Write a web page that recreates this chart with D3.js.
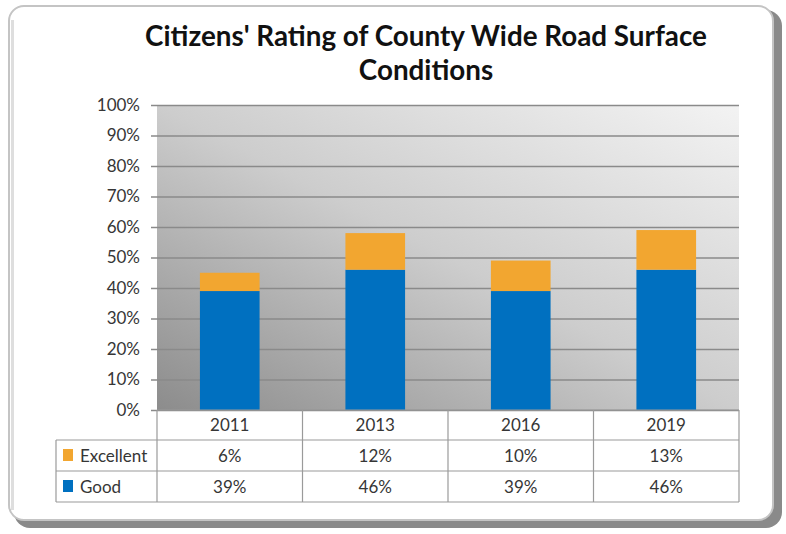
<!DOCTYPE html>
<html><head><meta charset="utf-8">
<script src="https://cdn.jsdelivr.net/npm/d3@7"></script>
<style>html,body{margin:0;padding:0;background:#fff;}svg{display:block;}</style>
</head><body>
<script>
const years = ["2011","2013","2016","2019"];
const seriesNames = ["Excellent","Good"];
const good = [39,46,39,46];
const excellent = [6,12,10,13];
const yTicks = [0,10,20,30,40,50,60,70,80,90,100];
const titleLines = ["Citizens' Rating of County Wide Road Surface","Conditions"];
const colors = {Good:"#0070C0", Excellent:"#F2A630"};

const W=786,H=534;
const svg=d3.select("body").append("svg").attr("width",W).attr("height",H);
const defs=svg.append("defs");
const g1=defs.append("linearGradient").attr("id","bg").attr("x1","0").attr("y1","1").attr("x2","1").attr("y2","0");
g1.append("stop").attr("offset","0").attr("stop-color","#8c8c8c");
g1.append("stop").attr("offset","0.5").attr("stop-color","#cdcdcd");
g1.append("stop").attr("offset","1").attr("stop-color","#f3f3f3");

// frame
svg.append("rect").attr("x",14).attr("y",10).attr("width",768).attr("height",518).attr("rx",16).attr("fill","#8a8a8a");
svg.append("rect").attr("x",9).attr("y",6).attr("width",764).attr("height",514).attr("rx",15).attr("fill","#fff").attr("stroke","#c4c4c4").attr("stroke-width",2);
svg.append("rect").attr("x",11).attr("y",20).attr("width",3).attr("height",490).attr("fill","#dedede");

const font="Lato, 'Open Sans', sans-serif";
svg.append("g").selectAll("text").data(titleLines).join("text")
 .attr("x",426).attr("y",(d,i)=>46+i*34).attr("text-anchor","middle")
 .attr("font-family",font).attr("font-weight","bold").attr("font-size",27.8).attr("fill","#111").text(d=>d);

const px0=157,px1=739,py0=105,py1=410;
const x=d3.scaleBand().domain(years).range([px0,px1]).padding(0);
const y=d3.scaleLinear().domain([0,100]).range([py1,py0]);

svg.append("rect").attr("x",px0).attr("y",py0).attr("width",px1-px0).attr("height",py1-py0).attr("fill","url(#bg)");

const fs=17, tc="#363636";
const ax=svg.append("g").attr("transform",`translate(${px0},0)`)
 .call(d3.axisLeft(y).tickValues(yTicks).tickSize(-(px1-px0)).tickFormat(d=>d+"%").tickPadding(17));
ax.select(".domain").remove();
ax.selectAll(".tick line").attr("stroke","#8a8a8a").attr("stroke-width",1.5).attr("x1",-6);
ax.selectAll(".tick text").attr("font-family",font).attr("font-size",fs).attr("fill",tc);

const stackData=years.map((yr,i)=>({year:yr,Good:good[i],Excellent:excellent[i]}));
const stack=d3.stack().keys(["Good","Excellent"])(stackData);
const bw=x.bandwidth()*0.41;
svg.append("g").selectAll("g").data(stack).join("g").attr("fill",d=>colors[d.key])
 .selectAll("rect").data(d=>d).join("rect")
 .attr("x",d=>x(d.data.year)+x.bandwidth()/2-bw/2).attr("width",bw)
 .attr("y",d=>y(d[1])).attr("height",d=>y(d[0])-y(d[1]));

const lineC="#9a9a9a";
const tl=svg.append("g").attr("stroke",lineC).attr("stroke-width",1.2);
const tx0=56;
tl.append("line").attr("x1",px0).attr("x2",px1).attr("y1",410).attr("y2",410);
[440,471,502].forEach(v=>tl.append("line").attr("x1",tx0).attr("x2",px1).attr("y1",v).attr("y2",v));
tl.append("line").attr("x1",tx0).attr("x2",tx0).attr("y1",440).attr("y2",502);
years.forEach(yr=>tl.append("line").attr("x1",x(yr)).attr("x2",x(yr)).attr("y1",410).attr("y2",502));
tl.append("line").attr("x1",px1).attr("x2",px1).attr("y1",410).attr("y2",502);

svg.append("g").selectAll("text").data(years).join("text")
 .attr("x",d=>x(d)+x.bandwidth()/2).attr("y",431).attr("text-anchor","middle")
 .attr("font-family",font).attr("font-size",fs).attr("fill",tc).text(d=>d);

const rows=[{name:"Excellent",vals:excellent,y:462},{name:"Good",vals:good,y:493}];
rows.forEach(r=>{
  svg.append("rect").attr("x",63).attr("y",r.y-13).attr("width",10).attr("height",12).attr("fill",colors[r.name]);
  svg.append("text").attr("x",80).attr("y",r.y).attr("font-family",font).attr("font-size",fs).attr("fill",tc).text(r.name);
  svg.append("g").selectAll("text").data(r.vals).join("text")
   .attr("x",(d,i)=>x(years[i])+x.bandwidth()/2).attr("y",r.y).attr("text-anchor","middle")
   .attr("font-family",font).attr("font-size",fs).attr("fill",tc).text(d=>d+"%");
});
</script>
</body></html>
